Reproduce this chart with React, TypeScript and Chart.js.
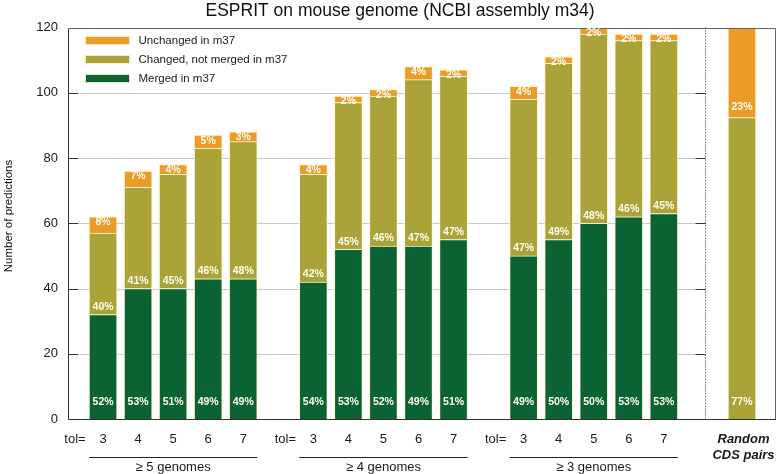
import React, { useEffect, useRef } from 'react';
import { Chart, registerables } from 'chart.js';

Chart.register(...registerables);

const FONT = '"Liberation Sans", Arial, Helvetica, sans-serif';

const chartTitle = 'ESPRIT on mouse genome (NCBI assembly m34)';
const yAxisTitle = 'Number of predictions';
const seriesNames = ['Merged in m37', 'Changed, not merged in m37', 'Unchanged in m37'];
const seriesColors = ['#0b6232', '#a9a339', '#eb9b27'];

// slot positions of the bars along the x axis
const barSlots = [1, 2, 3, 4, 5, 7, 8, 9, 10, 11, 13, 14, 15, 16, 17, 19.23];
const merged = [32, 40, 40, 43, 43, 42, 52, 53, 53, 55, 50, 55, 60, 62, 63, 0];
const changed = [25, 31, 35, 40, 42, 33, 45, 46, 51, 50, 48, 54, 58, 54, 53, 92.4];
const unchanged = [5, 5, 3, 4, 3, 3, 2, 2, 4, 2, 4, 2, 2, 2, 2, 27.6];

const mergedPct = ['52%', '53%', '51%', '49%', '49%', '54%', '53%', '52%', '49%', '51%', '49%', '50%', '50%', '53%', '53%', ''];
const changedPct = ['40%', '41%', '45%', '46%', '48%', '42%', '45%', '46%', '47%', '47%', '47%', '49%', '48%', '46%', '45%', '77%'];
const unchangedPct = ['8%', '7%', '4%', '5%', '3%', '4%', '2%', '2%', '4%', '2%', '4%', '2%', '2%', '2%', '2%', '23%'];

const tolLabel = 'tol=';
const tolSlots = [0.2, 6.2, 12.2];
const barTickLabels = ['3', '4', '5', '6', '7', '3', '4', '5', '6', '7', '3', '4', '5', '6', '7', ''];
const groupNames = ['\u2265 5 genomes', '\u2265 4 genomes', '\u2265 3 genomes'];
const groupBarIndex = [[0, 4], [5, 9], [10, 14]];
const randomLabel = ['Random', 'CDS pairs'];
const separatorSlot = 18.18;
const yMax = 120;
const yStep = 20;

const drawPlugin = {
  id: 'custom-draw',
  beforeDatasetsDraw(chart: any) {
    const { ctx, chartArea } = chart;
    const ys = chart.scales.y;
    const xs = chart.scales.x;
    const sepX = Math.round(xs.getPixelForValue(separatorSlot)) + 0.5;
    ctx.save();
    for (let v = yStep; v < yMax; v += yStep) {
      const y = Math.round(ys.getPixelForValue(v)) + 0.5;
      ctx.strokeStyle = '#c9c9c9';
      ctx.lineWidth = 1;
      ctx.beginPath();
      ctx.moveTo(chartArea.left, y);
      ctx.lineTo(sepX, y);
      ctx.stroke();
      ctx.strokeStyle = '#333';
      ctx.beginPath();
      ctx.moveTo(chartArea.left, y);
      ctx.lineTo(chartArea.left + 10, y);
      ctx.moveTo(sepX - 10, y);
      ctx.lineTo(sepX, y);
      ctx.stroke();
    }
    ctx.strokeStyle = '#222';
    ctx.setLineDash([1, 2]);
    ctx.beginPath();
    ctx.moveTo(sepX, chartArea.top);
    ctx.lineTo(sepX, chartArea.bottom);
    ctx.stroke();
    ctx.restore();
  },
  afterDatasetsDraw(chart: any) {
    const { ctx, chartArea } = chart;
    const xs = chart.scales.x;
    const m0 = chart.getDatasetMeta(0).data;
    const m1 = chart.getDatasetMeta(1).data;
    const m2 = chart.getDatasetMeta(2).data;
    ctx.save();
    // frame
    ctx.lineWidth = 1;
    ctx.strokeStyle = '#666';
    ctx.beginPath();
    ctx.moveTo(Math.round(chartArea.left) + 0.5, Math.round(chartArea.top) + 0.5);
    ctx.lineTo(Math.round(chartArea.right) - 0.5, Math.round(chartArea.top) + 0.5);
    ctx.lineTo(Math.round(chartArea.right) - 0.5, Math.round(chartArea.bottom) + 0.5);
    ctx.stroke();
    ctx.strokeStyle = '#333';
    ctx.beginPath();
    ctx.moveTo(Math.round(chartArea.left) + 0.5, Math.round(chartArea.top) + 0.5);
    ctx.lineTo(Math.round(chartArea.left) + 0.5, Math.round(chartArea.bottom) + 0.5);
    ctx.lineTo(Math.round(chartArea.right), Math.round(chartArea.bottom) + 0.5);
    ctx.stroke();

    // bar labels
    ctx.fillStyle = '#fffdf0';
    ctx.font = `bold 10.5px ${FONT}`;
    ctx.textAlign = 'center';
    ctx.textBaseline = 'middle';
    for (let i = 0; i < barSlots.length; i++) {
      const g = m0[i], c = m1[i], u = m2[i];
      if (merged[i] > 0) {
        ctx.fillText(mergedPct[i], g.x, g.base - 17);
        ctx.fillText(changedPct[i], c.x, c.base - 7.5);
        ctx.fillText(unchangedPct[i], u.x, u.y + 5.5);
      } else {
        ctx.fillText(changedPct[i], c.x, c.base - 17);
        ctx.fillText(unchangedPct[i], u.x, u.base - 10);
      }
    }

    // x-axis labels
    const labelY = chartArea.bottom + 20;
    ctx.fillStyle = '#1a1a1a';
    ctx.font = `13px ${FONT}`;
    tolSlots.forEach((s) => ctx.fillText(tolLabel, xs.getPixelForValue(s), labelY));
    for (let i = 0; i < barSlots.length; i++) {
      if (barTickLabels[i]) ctx.fillText(barTickLabels[i], m0[i].x, labelY);
    }
    const lineY = chartArea.bottom + 37.5;
    ctx.strokeStyle = '#222';
    ctx.lineWidth = 1;
    groupBarIndex.forEach(([a, b], k) => {
      const x1 = m0[a].x - m0[a].width / 2;
      const x2 = m0[b].x + m0[b].width / 2;
      ctx.beginPath();
      ctx.moveTo(x1, Math.round(lineY) + 0.5);
      ctx.lineTo(x2, Math.round(lineY) + 0.5);
      ctx.stroke();
      ctx.fillText(groupNames[k], (x1 + x2) / 2, chartArea.bottom + 48);
    });
    const r = m0[barSlots.length - 1];
    ctx.font = `italic bold 13px ${FONT}`;
    ctx.fillText(randomLabel[0], r.x + 1.5, labelY);
    ctx.fillText(randomLabel[1], r.x + 1.5, labelY + 16);

    // legend
    const legendOrder = [2, 1, 0];
    ctx.font = `11.5px ${FONT}`;
    ctx.textAlign = 'left';
    legendOrder.forEach((d, k) => {
      const cy = chartArea.top + 13 + k * 19;
      ctx.fillStyle = seriesColors[d];
      ctx.fillRect(85, cy - 4.5, 45, 9);
      ctx.strokeStyle = 'rgba(255,245,200,0.9)';
      ctx.strokeRect(85.5, cy - 4, 44, 8);
      ctx.fillStyle = '#1a1a1a';
      ctx.fillText(seriesNames[d], 138.5, cy);
    });

    // title
    ctx.textAlign = 'center';
    ctx.font = `17.5px ${FONT}`;
    ctx.fillStyle = '#111';
    ctx.fillText(chartTitle, 400, 11);

    // y axis title
    ctx.save();
    ctx.translate(9, 216);
    ctx.rotate(-Math.PI / 2);
    ctx.font = `11.5px ${FONT}`;
    ctx.fillText(yAxisTitle, 0, 0);
    ctx.restore();
    ctx.restore();
  },
};

export default function App() {
  const ref = useRef<HTMLCanvasElement | null>(null);
  useEffect(() => {
    if (!ref.current) return;
    const mk = (vals: number[]) => vals.map((v, i) => ({ x: barSlots[i], y: v }));
    const chart = new Chart(ref.current, {
      type: 'bar',
      data: {
        datasets: [
          { label: seriesNames[0], data: mk(merged), backgroundColor: seriesColors[0] },
          { label: seriesNames[1], data: mk(changed), backgroundColor: seriesColors[1] },
          { label: seriesNames[2], data: mk(unchanged), backgroundColor: seriesColors[2] },
        ].map((d) => ({
          ...d,
          borderColor: 'rgba(255,244,196,0.85)',
          borderWidth: 1,
          barThickness: 28,
        })) as any,
      },
      options: {
        animation: false,
        responsive: false,
        maintainAspectRatio: false,
        layout: { padding: { top: 27.5, right: 1, left: 0, bottom: 0 } },
        plugins: {
          legend: { display: false },
          title: { display: false },
          tooltip: { enabled: false },
        },
        scales: {
          x: {
            type: 'linear',
            stacked: true,
            offset: false,
            grace: 0,
            min: 0,
            max: 20.2,
            grid: { display: false, drawTicks: false, offset: false },
            border: { display: false },
            ticks: { display: false },
            afterFit: (s: any) => { s.height = 55; },
          },
          y: {
            stacked: true,
            min: 0,
            max: yMax,
            grid: { display: false, drawTicks: false },
            border: { display: false },
            ticks: {
              stepSize: yStep,
              color: '#1a1a1a',
              padding: 10,
              font: { family: FONT, size: 13 },
            },
            afterFit: (s: any) => { s.width = 68; },
          },
        },
      } as any,
      plugins: [drawPlugin],
    });
    return () => chart.destroy();
  }, []);
  return (
    <div style={{ position: 'absolute', left: 0, top: 0, width: 777, height: 474, background: '#fff' }}>
      <canvas ref={ref} width={777} height={474} style={{ display: 'block' }} />
    </div>
  );
}
